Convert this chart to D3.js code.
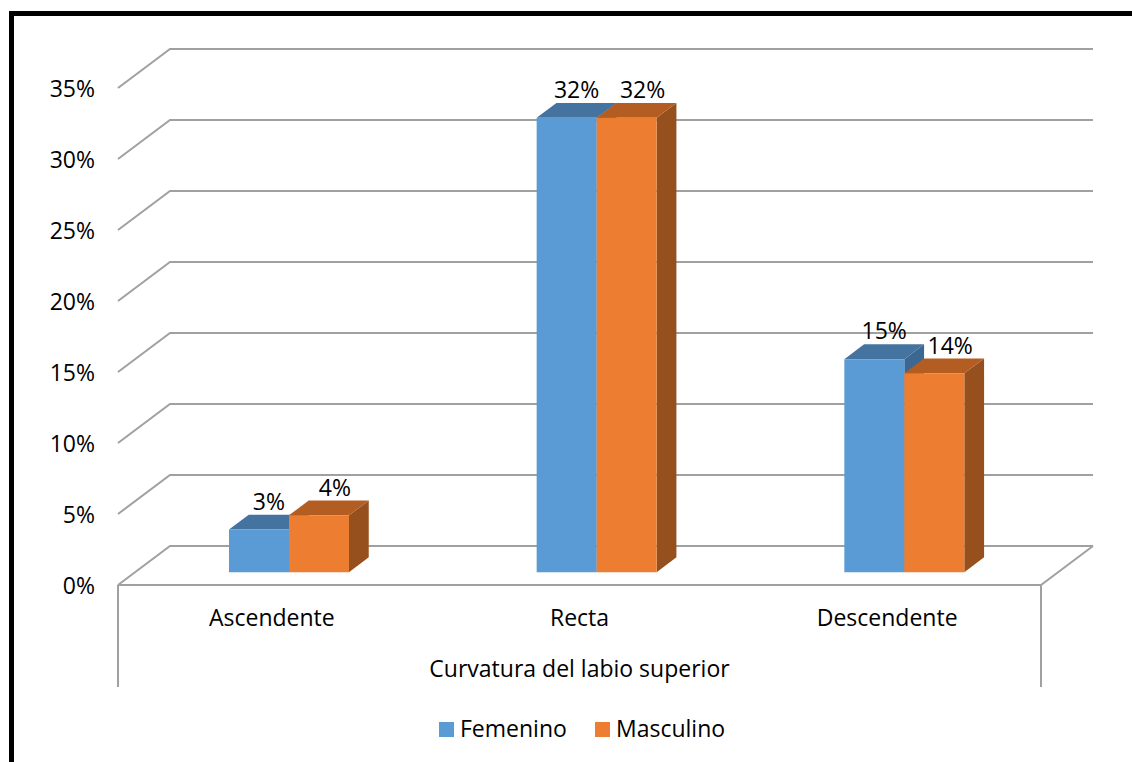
<!DOCTYPE html>
<html>
<head>
<meta charset="utf-8">
<script src="https://cdn.jsdelivr.net/npm/d3@7"></script>
<style>
  html, body { margin: 0; padding: 0; background: #fff; }
  svg { display: block; }
  text { font-family: "Open Sans", "DejaVu Sans", sans-serif; fill: #000; }
</style>
</head>
<body>
<svg id="chart" width="1132" height="762"></svg>
<script>
// Curvatura del labio superior, por sexo (porcentaje)
const categories = ["Ascendente", "Recta", "Descendente"];
const seriesNames = ["Femenino", "Masculino"];
const femenino = [3, 32, 15];
const masculino = [4, 32, 14];
const yTicks = [0, 5, 10, 15, 20, 25, 30, 35];
const axisTitle = "Curvatura del labio superior";

const seriesValues = [femenino, masculino];
const colors = {
  Femenino:  { front: "#5B9BD5", top: "#44739F", side: "#3B6792" },
  Masculino: { front: "#ED7D31", top: "#B45D22", side: "#96501D" }
};

const svg = d3.select("#chart");
const W = 1132, H = 762;
const fontSize = 23;

// Outer frame
svg.append("rect")
  .attr("x", 11.5).attr("y", 13.5)
  .attr("width", W + 20).attr("height", H + 20)
  .attr("fill", "#fff").attr("stroke", "#000").attr("stroke-width", 5);

// Oblique 3D layout: back wall origin, wall width, depth vector
const wallX = 170, wallW = 923, baseY = 546;
const depth = { dx: -52, dy: 39 };
const barFrontD = 0.67, barBackD = 0.29;

const x = d3.scaleBand().domain(categories).range([0, wallW]).padding(0);
const inner = d3.scaleBand().domain(seriesNames)
  .range([x.bandwidth() / 2 - 60, x.bandwidth() / 2 + 60]).padding(0);
const y = d3.scaleLinear().domain([0, 35]).range([0, 497]);

// Project a point (plane x, value, depth fraction) to screen
const P = (px, v, d) => [wallX + px + depth.dx * d, baseY - y(v) + depth.dy * d];
const line = d3.line();

const grid = svg.append("g")
  .attr("fill", "none").attr("stroke", "#A0A0A0").attr("stroke-width", 2)
  .attr("stroke-linejoin", "miter");

// Back wall gridlines with the left-wall diagonal
yTicks.forEach(t => {
  grid.append("path").attr("d", line([P(0, t, 1), P(0, t, 0), P(wallW, t, 0)]));
});
// Floor: front edge and right-side diagonal
grid.append("path").attr("d", line([P(wallW, 0, 0), P(wallW, 0, 1), P(0, 0, 1)]));
// Category axis box verticals
const fl = P(0, 0, 1), fr = P(wallW, 0, 1);
grid.append("path").attr("d", line([fl, [fl[0], 687]]));
grid.append("path").attr("d", line([fr, [fr[0], 687]]));

// Value axis labels
svg.append("g").selectAll("text").data(yTicks).join("text")
  .attr("x", 95)
  .attr("y", d => P(0, d, 1)[1] + 3)
  .attr("text-anchor", "end")
  .attr("dominant-baseline", "middle")
  .attr("font-size", fontSize)
  .text(d => d + "%");

// Bars
const bars = svg.append("g");
categories.forEach((c, ci) => {
  seriesNames.forEach((s, si) => {
    const v = seriesValues[si][ci];
    const x0 = x(c) + inner(s), x1 = x0 + inner.bandwidth();
    const col = colors[s];
    const g = bars.append("g");
    // side face
    g.append("path").attr("fill", col.side)
      .attr("d", line([P(x1, 0, barFrontD), P(x1, 0, barBackD), P(x1, v, barBackD), P(x1, v, barFrontD)]) + "Z");
    // top face
    g.append("path").attr("fill", col.top)
      .attr("d", line([P(x0, v, barFrontD), P(x0, v, barBackD), P(x1, v, barBackD), P(x1, v, barFrontD)]) + "Z");
    // front face
    g.append("path").attr("fill", col.front)
      .attr("d", line([P(x0, 0, barFrontD), P(x0, v, barFrontD), P(x1, v, barFrontD), P(x1, 0, barFrontD)]) + "Z");
  });
});

// Value labels above the bar tops
categories.forEach((c, ci) => {
  seriesNames.forEach((s, si) => {
    const v = seriesValues[si][ci];
    const xc = x(c) + inner(s) + inner.bandwidth() / 2;
    const d = (barFrontD + barBackD) / 2;
    const p = P(xc, v, d);
    const back = P(xc, v, barBackD);
    svg.append("text")
      .attr("x", p[0] + (si === 1 ? 6 : 0))
      .attr("y", back[1] - 5)
      .attr("text-anchor", "middle")
      .attr("font-size", fontSize)
      .text(v + "%");
  });
});

// Category labels
svg.append("g").selectAll("text").data(categories).join("text")
  .attr("x", d => P(x(d) + x.bandwidth() / 2, 0, 1)[0])
  .attr("y", 626)
  .attr("text-anchor", "middle")
  .attr("font-size", fontSize)
  .text(d => d);

// Axis title
svg.append("text")
  .attr("x", P(wallW / 2, 0, 1)[0])
  .attr("y", 677)
  .attr("text-anchor", "middle")
  .attr("font-size", fontSize)
  .text(axisTitle);

// Legend
const legend = svg.append("g");
const legendX = [439, 595];
seriesNames.forEach((s, i) => {
  legend.append("rect")
    .attr("x", legendX[i]).attr("y", 722)
    .attr("width", 15).attr("height", 15)
    .attr("fill", colors[s].front);
  legend.append("text")
    .attr("x", legendX[i] + 21).attr("y", 737)
    .attr("font-size", fontSize)
    .text(s);
});
</script>
</body>
</html>
